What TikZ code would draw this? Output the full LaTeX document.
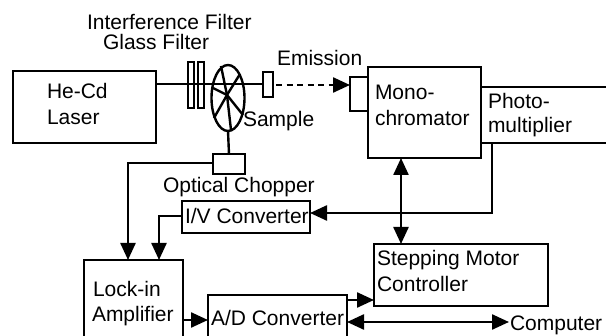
\documentclass[tikz,border=0pt]{standalone}
\usepackage{fontspec}
\setmainfont{Liberation Sans}
\usetikzlibrary{arrows.meta,shapes.geometric}
\tikzset{
  line/.style={line width=2.4pt,draw=black,line cap=butt,line join=miter},
  wire/.style={line,-{Triangle[length=17pt,width=15pt]}},
  wirerev/.style={line,{Triangle[length=17pt,width=15pt]}-{Triangle[length=17pt,width=15pt]}},
  box/.style={line,rectangle,inner sep=0pt,outer sep=0pt},
  lab/.style={anchor=base west,inner sep=0pt,outer sep=0pt,font=\fontsize{21}{25}\selectfont},
}
\newcommand{\bx}[6]{\node[box,minimum width=#4pt-#2pt,minimum height=#5pt-#3pt,anchor=north west] (#1) at (#2,#3) {#6};}
\begin{document}
\begin{tikzpicture}[x=1pt,y=-1pt]
\useasboundingbox (0,0) rectangle (606,336);
\clip (0,0) rectangle (606,336);
% boxes
\bx{laser}{13}{71}{156}{143}{}
\bx{mono}{368}{67}{481}{158}{}
\bx{port}{350}{77}{368}{111}{}
\bx{filtA}{188}{62}{194}{108}{}
\bx{filtB}{198}{62}{204}{108}{}
\bx{samp}{263}{72}{273}{97}{}
\bx{chop}{213}{154}{245}{174}{}
\bx{iv}{182}{201}{310}{233}{}
\bx{step}{374}{244}{548}{306}{}
% open boxes, cut by the lower edge
\coordinate (lockTL) at (84,260);
\coordinate (lockTR) at (183,260);
\coordinate (adTL) at (208,295);
\coordinate (adTR) at (347,295);
\draw[line] (84,340) -- (lockTL) -- (lockTR) -- (183,340);
\draw[line] (208,340) -- (adTL) -- (adTR) -- (347,340);
% wheel
\node[line,ellipse,minimum width=33pt,minimum height=66pt,inner sep=0pt,outer sep=0pt] (wheel) at (228,98) {};
\coordinate (hub) at (227,95);
\foreach \px/\py in {221/66,240/74,213/88,243/115,214/118,231/130}{
  \draw[line] (hub) -- (\px,\py);
}
% beam
\draw[line] (laser.east |- 0,84) -- (samp.west |- 0,84);
\coordinate (beamEnd) at (samp.east |- 0,85);
\draw[line,dash pattern=on 6pt off 4.5pt] (beamEnd) ++(3,0) -- (333,85);
\draw[wire] (330,85) -- (port.west |- 0,85);
% chopper
\draw[line] (wheel.south) -- (chop.north);
\coordinate (chopL) at (128,163);
\draw[wire] (chop.west |- chopL) -- (chopL) -- (128,260);
% IV to lock-in
\coordinate (ivL) at (159,216);
\draw[wire] (iv.west |- ivL) -- (ivL) -- (159,260);
% photomultiplier
\coordinate (pmtTop) at (606,87);
\coordinate (pmtBot) at (606,143);
\draw[line] (mono.east |- pmtTop) -- (pmtTop);
\draw[line] (mono.east |- pmtBot) -- (pmtBot);
\coordinate (pmtOut) at (492,143);
\draw[wire] (pmtOut) -- (492,213) -- (iv.east |- 0,213);
% mono / stepping
\draw[wirerev] (401,158) -- (401,244);
% lock-in to AD
\draw[wire] (183,320) -- (208,320);
% AD to stepping
\draw[wire] (347,300) -- (374,300);
% AD / computer
\coordinate (comp) at (509,322);
\draw[wirerev] (347,322) -- (comp);
% labels
\node[lab] (t1) at (87,30) {Interference Filter};
\node[lab] (t2) at (103,50) {Glass Filter};
\node[lab] (t3) at (277,66) {Emission};
\node[lab] (t4) at (47,99) {He-Cd};
\node[lab] (t5) at (47,125) {Laser};
\node[lab] (t6) at (375,100) {Mono-};
\node[lab] (t7) at (375,126) {chromator};
\node[lab] (t8) at (488,109) {Photo-};
\node[lab] (t9) at (488,133) {multiplier};
\node[lab] (t10) at (243,127) {Sample};
\node[lab] (t11) at (163,193) {Optical Chopper};
\node[lab] (t12) at (185,224) {I/V Converter};
\node[lab] (t13) at (377,266) {Stepping Motor};
\node[lab] (t14) at (377,292) {Controller};
\node[lab] (t15) at (93,297) {Lock-in};
\node[lab] (t16) at (92,322) {Amplifier};
\node[lab] (t17) at (211,326) {A/D Converter};
\node[lab] (t18) at (510,331) {Computer};
\end{tikzpicture}
\end{document}
